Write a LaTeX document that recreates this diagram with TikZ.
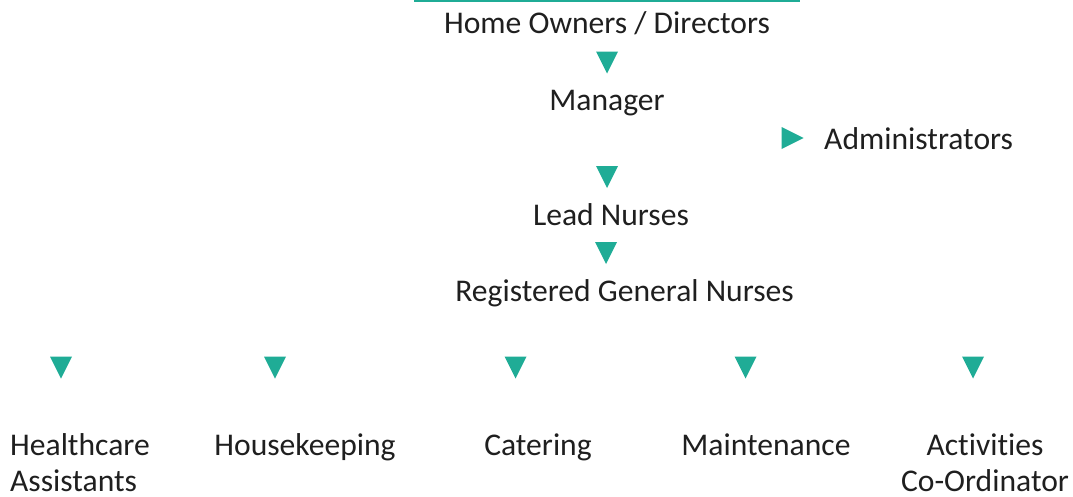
\documentclass[tikz,border=0pt]{standalone}
\usepackage{fontspec}
\setmainfont{Carlito}[Ligatures=NoCommon]
\definecolor{teal1}{RGB}{31,172,150}
\begin{document}
\begin{tikzpicture}[x=1pt,y=-1pt,
  lbl/.style={font=\fontsize{31.6}{36}\selectfont, inner sep=0pt, text=black!88},
  downtri/.pic={\fill[teal1] (-11,-11) -- (11,-11) -- (0,11) -- cycle;},
  righttri/.pic={\fill[teal1] (-11,-11) -- (11,0) -- (-11,11) -- cycle;}]
\useasboundingbox (0,0) rectangle (1073,496);
\coordinate (ruleL) at (414,1);
\coordinate (ruleR) at (800,1);
\draw[teal1, line width=2pt] (ruleL) -- (ruleR);
\node[lbl, anchor=base] (owners) at (607,33) {Home Owners / Directors};
\pic (t1) at (607,62.5) {downtri};
\node[lbl, anchor=base] (manager) at (607,110) {Manager};
\pic (t2) at (792.5,138) {righttri};
\node[lbl, anchor=base west] (admin) at (824,149) {Administrators};
\pic (t3) at (607,177) {downtri};
\node[lbl, anchor=base] (lead) at (611,225) {Lead Nurses};
\pic (t4) at (606,253) {downtri};
\node[lbl, anchor=base] (rgn) at (624.5,301) {Registered General Nurses};
\pic (b1) at (61,367.5) {downtri};
\pic (b2) at (275,367.5) {downtri};
\pic (b3) at (515.5,367.5) {downtri};
\pic (b4) at (745.5,367.5) {downtri};
\pic (b5) at (973,367.5) {downtri};
\node[lbl, anchor=base west, align=left] (hca) at (10,491) {Healthcare\\Assistants};
\node[lbl, anchor=base] (hk) at (305,455) {Housekeeping};
\node[lbl, anchor=base] (cat) at (538,455) {Catering};
\node[lbl, anchor=base] (maint) at (766,455) {Maintenance};
\node[lbl, anchor=base, align=center] (act) at (985,491) {Activities\\Co-Ordinator};
\end{tikzpicture}
\end{document}
